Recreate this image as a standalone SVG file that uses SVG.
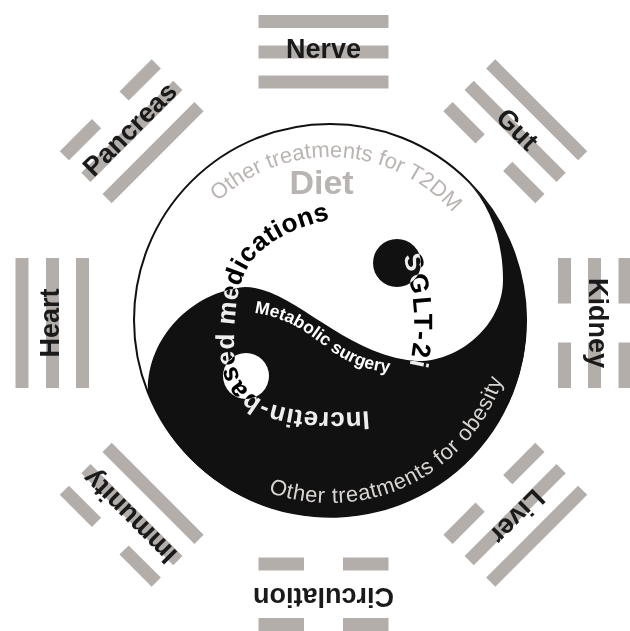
<svg xmlns="http://www.w3.org/2000/svg" width="630" height="631" viewBox="0 0 630 631">
<style>
.bar{fill:#b4aeab}
.lbl{font-family:"Liberation Sans",Arial,sans-serif;font-weight:bold;font-size:27px;fill:#1a1a1a;text-anchor:middle}
.inv{font-family:"Liberation Sans",Arial,sans-serif;font-weight:bold;fill:#ffffff;mix-blend-mode:difference}
.gray{font-family:"Liberation Sans",Arial,sans-serif;fill:#b9b4b2}
.light{font-family:"Liberation Sans",Arial,sans-serif;fill:#d8d4d2}
</style>
<defs>
<path id="pT2DM" d="M 167 320 A 163 163 0 0 1 493 320"/>
<path id="pObes" d="M 238.5 478.5 A 183 183 0 0 0 510.2 288.2"/>
<path id="pIncr" d="M 369 411 C 320 415 282 410 262 400 C 240 389 234 370 234 345 C 234 300 240 268 262 250 C 282 233 305 225 336 218"/>
<path id="pSglt" d="M 403 256 C 416 296 420 340 402 392"/>
<path id="pMeta" d="M 254 313 C 287 317 308 333 330 350 C 347 362 366 371 396 373"/>
</defs>
<rect x="0" y="0" width="630" height="631" fill="#ffffff"/>

<g id="trigram-nerve">
<rect class="bar" x="258.5" y="15" width="130" height="13"/>
<rect class="bar" x="258.5" y="45.5" width="130" height="13"/>
<rect class="bar" x="258.5" y="75.5" width="130" height="13"/>
<text class="lbl" x="323.5" y="58">Nerve</text>
</g>
<g id="trigram-gut" transform="rotate(45 323.5 323)">
<rect class="bar" x="258.5" y="15" width="130" height="13"/>
<rect class="bar" x="258.5" y="45.5" width="130" height="13"/>
<rect class="bar" x="258.5" y="75.5" width="45.5" height="13"/>
<rect class="bar" x="343" y="75.5" width="45.5" height="13"/>
<text class="lbl" x="323.5" y="58">Gut</text>
</g>
<g id="trigram-kidney" transform="rotate(90 323.5 323)">
<rect class="bar" x="258.5" y="15" width="45.5" height="13"/>
<rect class="bar" x="343" y="15" width="45.5" height="13"/>
<rect class="bar" x="258.5" y="45.5" width="45.5" height="13"/>
<rect class="bar" x="343" y="45.5" width="45.5" height="13"/>
<rect class="bar" x="258.5" y="75.5" width="45.5" height="13"/>
<rect class="bar" x="343" y="75.5" width="45.5" height="13"/>
<text class="lbl" x="323.5" y="58">Kidney</text>
</g>
<g id="trigram-liver" transform="rotate(135 323.5 323)">
<rect class="bar" x="258.5" y="15" width="130" height="13"/>
<rect class="bar" x="258.5" y="45.5" width="130" height="13"/>
<rect class="bar" x="258.5" y="75.5" width="45.5" height="13"/>
<rect class="bar" x="343" y="75.5" width="45.5" height="13"/>
<text class="lbl" x="323.5" y="58">Liver</text>
</g>
<g id="trigram-circulation" transform="rotate(180 323.5 323)">
<rect class="bar" x="258.5" y="15" width="45.5" height="13"/>
<rect class="bar" x="343" y="15" width="45.5" height="13"/>
<rect class="bar" x="258.5" y="75.5" width="45.5" height="13"/>
<rect class="bar" x="343" y="75.5" width="45.5" height="13"/>
<text class="lbl" x="323.5" y="58">Circulation</text>
</g>
<g id="trigram-immunity" transform="rotate(225 323.5 323)">
<rect class="bar" x="258.5" y="15" width="45.5" height="13"/>
<rect class="bar" x="343" y="15" width="45.5" height="13"/>
<rect class="bar" x="258.5" y="45.5" width="130" height="13"/>
<rect class="bar" x="258.5" y="75.5" width="130" height="13"/>
<text class="lbl" x="323.5" y="58">Immunity</text>
</g>
<g id="trigram-heart" transform="rotate(270 323.5 323)">
<rect class="bar" x="258.5" y="15" width="130" height="13"/>
<rect class="bar" x="258.5" y="45.5" width="130" height="13"/>
<rect class="bar" x="258.5" y="75.5" width="130" height="13"/>
<text class="lbl" x="323.5" y="58">Heart</text>
</g>
<g id="trigram-pancreas" transform="rotate(315 323.5 323)">
<rect class="bar" x="258.5" y="15" width="45.5" height="13"/>
<rect class="bar" x="343" y="15" width="45.5" height="13"/>
<rect class="bar" x="258.5" y="45.5" width="130" height="13"/>
<rect class="bar" x="258.5" y="75.5" width="130" height="13"/>
<text class="lbl" x="323.5" y="58">Pancreas</text>
</g>

<g id="yinyang">
<circle cx="330" cy="320" r="196" fill="#ffffff" stroke="#111111" stroke-width="2"/>
<path d="M 467 181 A 196 196 0 1 1 148 393 C 146 340 190 292 245 287 C 290 287 340 350 407 360 C 450 368 503 330 503 280 C 503 240 490 205 467 181 Z" fill="#111111"/>
<circle cx="397" cy="263" r="24" fill="#111111"/>
<circle cx="246" cy="376" r="23" fill="#ffffff"/>
</g>

<g id="label-t2dm">
<text class="gray" font-size="22"><textPath href="#pT2DM" startOffset="51.5%" text-anchor="middle">Other treatments for T2DM</textPath></text>
<text class="gray" x="321.5" y="194" font-size="34" font-weight="bold" text-anchor="middle">Diet</text>
</g>
<g id="label-incretin">
<text class="inv" font-size="26" letter-spacing="0.6"><textPath href="#pIncr">Incretin-based medications</textPath></text>
</g>
<g id="label-sglt2i">
<text class="inv" font-size="26" letter-spacing="2.5"><textPath href="#pSglt">SGLT-2i</textPath></text>
</g>
<g id="label-metabolic">
<text font-family="Liberation Sans, Arial, sans-serif" font-weight="bold" font-size="17.5" fill="#ffffff"><textPath href="#pMeta">Metabolic surgery</textPath></text>
</g>
<g id="label-obesity">
<text class="light" font-size="22" letter-spacing="0.6"><textPath href="#pObes" startOffset="33">Other treatments for obesity</textPath></text>
</g>
<g id="connectors"/>
</svg>
